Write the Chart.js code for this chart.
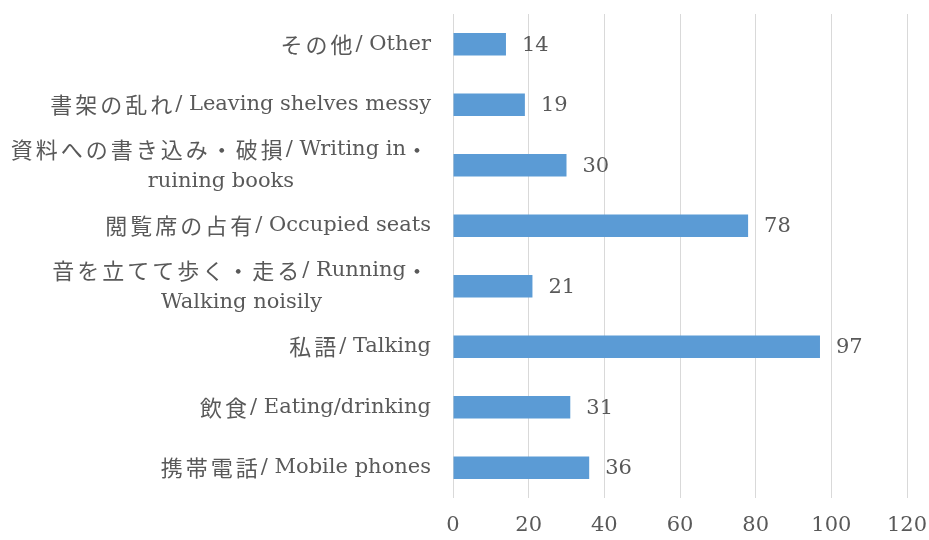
<!DOCTYPE html>
<html><head><meta charset="utf-8">
<script src="https://cdn.jsdelivr.net/npm/chart.js@4"></script>
<style>html,body{margin:0;padding:0;background:#fff}#wrap{width:929px;height:540px}</style>
</head><body><div id="wrap"><canvas id="c" width="929" height="540"></canvas></div>
<script>
const categories = [
  ["その他/ Other"],
  ["書架の乱れ/ Leaving shelves messy"],
  ["資料への書き込み・破損/ Writing in・", "ruining books"],
  ["閲覧席の占有/ Occupied seats"],
  ["音を立てて歩く・走る/ Running・", "Walking noisily"],
  ["私語/ Talking"],
  ["飲食/ Eating/drinking"],
  ["携帯電話/ Mobile phones"]
];
const values = [14, 19, 30, 78, 21, 97, 31, 36];
const xTicks = [0, 20, 40, 60, 80, 100, 120];

const LATIN = '21px "DejaVu Serif", serif';
const CJK = '22px "Noto Sans CJK JP", sans-serif';
const CJK_SPACING = '3px';
const TXT = '#595959';

function runs(str) {
  const out = [];
  for (const ch of str) {
    const isCJK = /[\u3000-\u30ff\u3400-\u9fff\uff00-\uffef]/.test(ch);
    if (out.length && out[out.length - 1].cjk === isCJK) out[out.length - 1].t += ch;
    else out.push({ cjk: isCJK, t: ch });
  }
  return out;
}
function setRun(ctx, r) {
  ctx.font = r.cjk ? CJK : LATIN;
  ctx.letterSpacing = r.cjk ? CJK_SPACING : '0px';
}
function measure(ctx, str) {
  let w = 0;
  for (const r of runs(str)) { setRun(ctx, r); w += ctx.measureText(r.t).width; }
  return w;
}
function drawMixed(ctx, str, xLeft, y) {
  let x = xLeft;
  for (const r of runs(str)) {
    setRun(ctx, r);
    ctx.fillText(r.t, x, y);
    x += ctx.measureText(r.t).width;
  }
}

const labelPlugin = {
  id: 'customLabels',
  afterDraw(chart) {
    const ctx = chart.ctx;
    const ys = chart.scales.y;
    ctx.save();
    ctx.fillStyle = TXT;
    ctx.textBaseline = 'middle';
    ctx.textAlign = 'left';
    const right = 431;
    categories.forEach((lines, i) => {
      const y = ys.getPixelForTick(i);
      const widths = lines.map(l => measure(ctx, l));
      const maxW = Math.max(...widths);
      const lh = 32;
      const y0 = y - (lines.length - 1) * lh / 2;
      lines.forEach((l, j) => {
        const x = lines.length > 1 ? right - maxW / 2 - widths[j] / 2 : right - widths[j];
        drawMixed(ctx, l, x, y0 + j * lh);
      });
    });
    const meta = chart.getDatasetMeta(0);
    ctx.font = LATIN;
    ctx.letterSpacing = '0px';
    meta.data.forEach((bar, i) => {
      ctx.fillText(String(values[i]), bar.x + 16, bar.y + 1);
    });
    ctx.restore();
  }
};

new Chart(document.getElementById('c'), {
  type: 'bar',
  data: {
    labels: categories,
    datasets: [{
      data: values,
      backgroundColor: '#5B9BD5',
      borderWidth: 0,
      categoryPercentage: 1,
      barPercentage: 0.37
    }]
  },
  options: {
    indexAxis: 'y',
    responsive: false,
    animation: false,
    plugins: { legend: { display: false }, tooltip: { enabled: false } },
    layout: { padding: { top: 14, right: 22, left: 0, bottom: 0 } },
    scales: {
      x: {
        min: 0, max: 120,
        afterBuildTicks: s => { s.ticks = xTicks.map(v => ({ value: v })); },
        afterFit: s => { s.height = 42; s.paddingRight = 0; s.paddingLeft = 0; },
        grid: { color: '#d9d9d9', drawTicks: false, lineWidth: 1 },
        border: { display: false },
        ticks: { color: TXT, font: { family: '"DejaVu Serif", serif', size: 21 }, padding: 15 }
      },
      y: {
        afterFit: s => { s.width = 453; },
        grid: { display: false, drawTicks: false },
        border: { display: false },
        ticks: { display: false }
      }
    }
  },
  plugins: [labelPlugin]
});
</script></body></html>
